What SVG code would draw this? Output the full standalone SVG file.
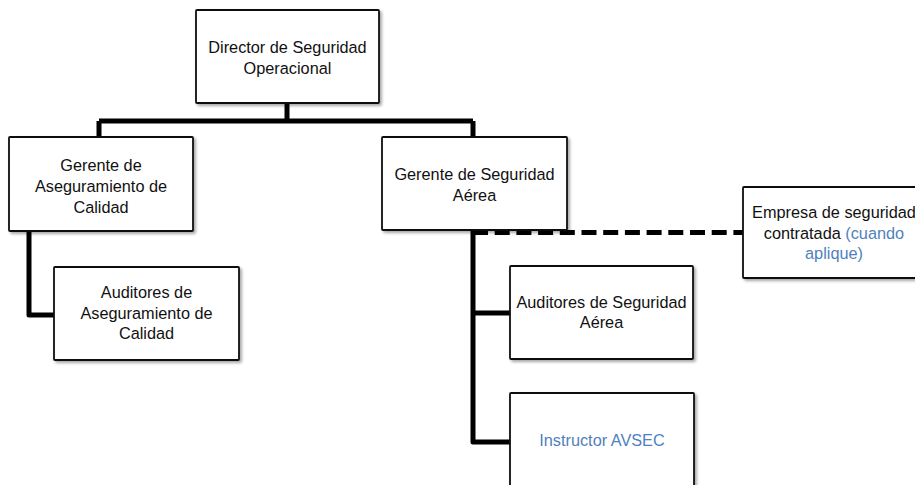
<svg xmlns="http://www.w3.org/2000/svg" width="915" height="485" viewBox="0 0 915 485">
<defs>
<filter id="sh" x="-10%" y="-10%" width="130%" height="130%">
<feGaussianBlur in="SourceAlpha" stdDeviation="1.5"/>
<feOffset dx="1.5" dy="2" result="b"/>
<feComponentTransfer><feFuncA type="linear" slope="0.35"/></feComponentTransfer>
<feMerge><feMergeNode/><feMergeNode in="SourceGraphic"/></feMerge>
</filter>
</defs>
<style>
.box{fill:#fff;stroke:#111;stroke-width:1.8;filter:url(#sh)}
.t{font-family:"Liberation Sans",Arial,sans-serif;font-size:16.3px;fill:#111;text-anchor:middle}
.b{fill:#4F81BD}
.c{fill:none;stroke:#000;stroke-width:5;stroke-linejoin:round}
.d{fill:none;stroke:#000;stroke-width:5;stroke-dasharray:15 6.7}
</style>
<rect width="915" height="485" fill="#fff"/>
<g id="connectors">
<path class="c" d="M287,103 V121 M99,121 H473 M99,121 V137 M473,121 V137"/>
<path class="c" d="M29,231 V315 H54"/>
<path class="c" d="M473,230 V442 H510 M473,313 H510"/>
<path class="d" d="M473,232.5 H743"/>
</g>
<g id="director">
<rect class="box" x="196" y="10" width="183" height="93" rx="1"/>
<text class="t" x="287.5" y="53">Director de Seguridad</text>
<text class="t" x="287.5" y="74">Operacional</text>
</g>
<g id="gerente-aseguramiento">
<rect class="box" x="9" y="137" width="184" height="94" rx="1"/>
<text class="t" x="101" y="171">Gerente de</text>
<text class="t" x="101" y="192">Aseguramiento de</text>
<text class="t" x="101" y="213">Calidad</text>
</g>
<g id="gerente-seguridad">
<rect class="box" x="382" y="137" width="185" height="93" rx="1"/>
<text class="t" x="474.5" y="180">Gerente de Seguridad</text>
<text class="t" x="474.5" y="201">Aérea</text>
</g>
<g id="empresa">
<rect class="box" x="743" y="187" width="182" height="91" rx="1"/>
<text class="t" x="834" y="218">Empresa de seguridad</text>
<text class="t" x="834" y="239">contratada <tspan class="b">(cuando</tspan></text>
<text class="t b" x="834" y="259">aplique)</text>
</g>
<g id="auditores-aseguramiento">
<rect class="box" x="54" y="267" width="185" height="93" rx="1"/>
<text class="t" x="146.5" y="298">Auditores de</text>
<text class="t" x="146.5" y="319">Aseguramiento de</text>
<text class="t" x="146.5" y="339">Calidad</text>
</g>
<g id="auditores-seguridad">
<rect class="box" x="510" y="266" width="183" height="93" rx="1"/>
<text class="t" x="601.5" y="308">Auditores de Seguridad</text>
<text class="t" x="601.5" y="328">Aérea</text>
</g>
<g id="instructor">
<rect class="box" x="510" y="393" width="184" height="100" rx="1"/>
<text class="t b" x="602" y="446">Instructor AVSEC</text>
</g>
</svg>
